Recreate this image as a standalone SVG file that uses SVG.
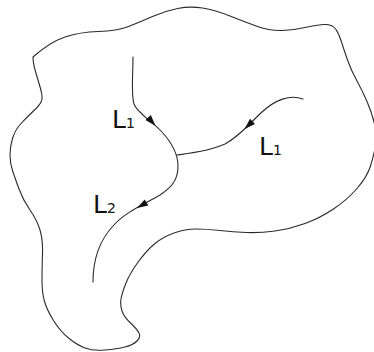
<svg xmlns="http://www.w3.org/2000/svg" width="374" height="352" viewBox="0 0 374 352">
<style>
.ln{fill:none;stroke:#2a2a2a;stroke-width:1.1;stroke-linecap:round;stroke-linejoin:round}
.lbl{font-family:"DejaVu Sans",Verdana,sans-serif;font-size:25px;fill:#111}
.sub{font-size:14px}
.ah{fill:#111}
</style>
<defs>
<path id="ah" d="M0,0 L-11,-3.6 L-11,3.6 Z"/>
</defs>
<g id="region">
<path class="ln" d="M 33,57 Q 50,42 65,37 Q 80,32 98.5,31.5 Q 117,31 128.5,26.5 Q 140,22 152.5,16.5 Q 165,11 177.5,8.5 Q 190,6 202.5,8 Q 215,10 230,16 Q 245,22 257.5,26.5 Q 270,31 282.5,30.5 Q 295,30 307.5,27 Q 320,24 326.5,24.5 Q 333,25 336,29.5 Q 339,34 341.5,42 Q 344,50 347.5,60 Q 351,70 356.5,80 Q 362,90 367,101.5 Q 372,113 374.5,124 Q 377,135 375.5,145 Q 374,155 370.5,166 Q 367,177 357,188.5 Q 347,200 333.5,209 Q 320,218 305,223.5 Q 290,229 275,231 Q 260,233 246.5,232.5 Q 233,232 220,230.5 Q 207,229 196,229 Q 185,229 174,233 Q 163,237 155,243.5 Q 147,250 138.5,261.5 Q 130,273 126,283 Q 122,293 121,299 Q 120,305 122,311 Q 124,317 130.5,323 Q 137,329 139,333 Q 141,337 137,341 Q 133,345 125,347 Q 117,349 105,350 Q 93,351 85,348 Q 77,345 68.5,338 Q 60,331 53.5,320.5 Q 47,310 44.5,301.5 Q 42,293 42,280 Q 42,267 42.5,253.5 Q 43,240 40,230 Q 37,220 30,210 Q 23,200 19,189 Q 15,178 12.5,170.5 Q 10,163 10,155 Q 10,147 12.5,138.5 Q 15,130 21,123.5 Q 27,117 33.5,111 Q 40,105 41.5,101 Q 43,97 40.5,88.5 Q 38,80 35.5,71.5 Q 33,63 33,57 Z"/>
</g>
<g id="connectors">
<path class="ln" d="M 133,57 C 133,75 131,95 134,104 C 137,113 152,121 162,132 C 172,143 178,153 178,166 C 178,180 172,187 160,195 C 145,204 125,212 113,226 C 100,240 93,260 93,282"/>
<path class="ln" d="M 303,99 C 290,94 275,100 262,112 C 250,123 240,136 225,144 C 210,151 192,153 177,155"/>
<use href="#ah" class="ah" transform="translate(155.5,125.7) rotate(48)"/>
<use href="#ah" class="ah" transform="translate(244.6,129.1) rotate(136)"/>
<use href="#ah" class="ah" transform="translate(137,208) rotate(150)"/>
</g>
<g id="label-L1a"><text class="lbl" x="112" y="128">L<tspan class="sub">1</tspan></text></g>
<g id="label-L1b"><text class="lbl" x="259" y="155">L<tspan class="sub">1</tspan></text></g>
<g id="label-L2"><text class="lbl" x="93" y="213">L<tspan class="sub">2</tspan></text></g>
</svg>
